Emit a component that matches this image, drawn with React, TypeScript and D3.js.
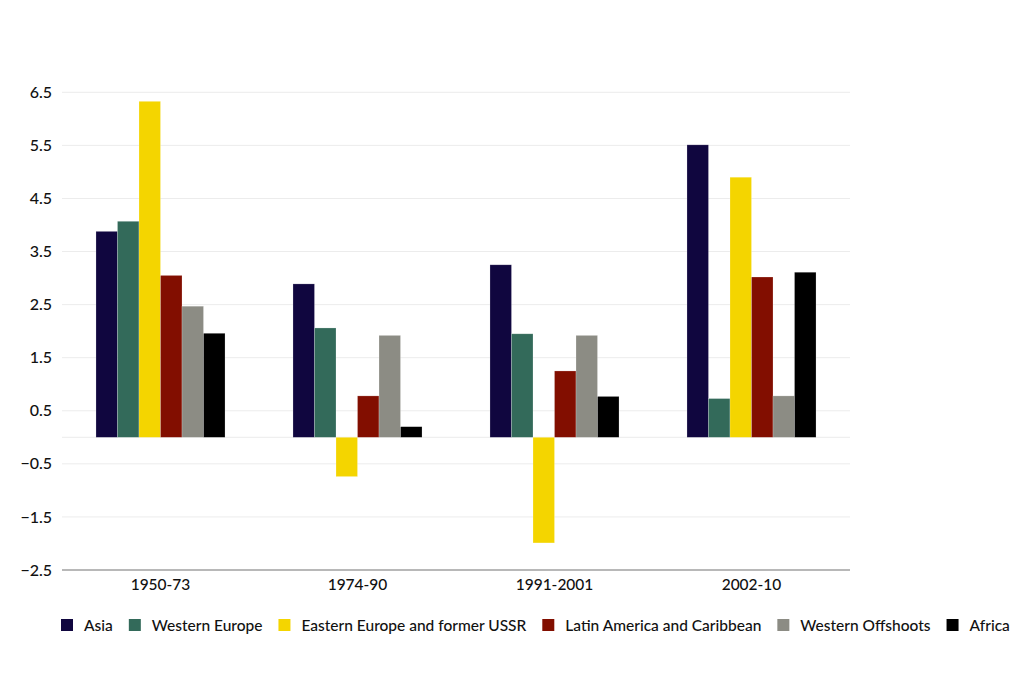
import { useEffect, useRef } from "react"
import * as d3 from "d3"

const periods = ["1950-73", "1974-90", "1991-2001", "2002-10"]
const regions = [
  "Asia",
  "Western Europe",
  "Eastern Europe and former USSR",
  "Latin America and Caribbean",
  "Western Offshoots",
  "Africa",
]
const regionColors = ["#10063f", "#336a5a", "#f4d500", "#820e00", "#8c8c84", "#000000"]

// growth rate per region, one value per period
const asia = [3.88, 2.89, 3.25, 5.51]
const westernEurope = [4.07, 2.06, 1.95, 0.73]
const easternEurope = [6.33, -0.74, -1.99, 4.9]
const latinAmerica = [3.05, 0.78, 1.25, 3.02]
const westernOffshoots = [2.47, 1.92, 1.92, 0.78]
const africa = [1.96, 0.2, 0.77, 3.11]
const seriesValues = [asia, westernEurope, easternEurope, latinAmerica, westernOffshoots, africa]

const yTicks = [-2.5, -1.5, -0.5, 0.5, 1.5, 2.5, 3.5, 4.5, 5.5, 6.5]

export default function App() {
  const svgRef = useRef<SVGSVGElement>(null)

  useEffect(() => {
    if (!svgRef.current) return
    document.body.style.margin = "0"

    const svg = d3.select(svgRef.current)
    svg.selectAll("*").remove()

    const font = "Lato, 'Open Sans', sans-serif"
    const left = 62
    const right = 850

    const y = d3.scaleLinear().domain([-2.5, 6.5]).range([570, 92.3])
    const x0 = d3.scaleBand().domain(periods).range([left, right]).paddingInner(0.345).paddingOuter(0.1725)
    const x1 = d3.scaleBand().domain(regions).range([0, x0.bandwidth()])

    // gridlines
    svg
      .append("g")
      .selectAll("line")
      .data(yTicks.concat([0]))
      .join("line")
      .attr("x1", left)
      .attr("x2", right)
      .attr("y1", (d) => y(d))
      .attr("y2", (d) => y(d))
      .attr("stroke", "#ececec")
      .attr("stroke-width", 1)

    // y tick labels
    svg
      .append("g")
      .selectAll("text")
      .data(yTicks)
      .join("text")
      .attr("x", 52)
      .attr("y", (d) => y(d))
      .attr("dy", "0.35em")
      .attr("text-anchor", "end")
      .attr("font-family", font)
      .attr("font-size", 16)
      .attr("font-weight", 500)
      .attr("fill", "#111")
      .text((d) => d3.format(".1f")(d))

    // bars
    const groups = svg
      .append("g")
      .selectAll("g")
      .data(periods)
      .join("g")
      .attr("transform", (d) => `translate(${x0(d)},0)`)

    groups
      .selectAll("rect")
      .data((_, i) => regions.map((r, k) => ({ region: r, k, value: seriesValues[k][i] })))
      .join("rect")
      .attr("x", (d) => x1(d.region) as number)
      .attr("width", x1.bandwidth())
      .attr("y", (d) => y(Math.max(0, d.value)))
      .attr("height", (d) => Math.abs(y(d.value) - y(0)))
      .attr("fill", (d) => regionColors[d.k])
      .attr("stroke", "#ffffff")
      .attr("stroke-opacity", 0.35)
      .attr("stroke-width", 0.6)

    // bottom axis line
    svg
      .append("line")
      .attr("x1", left)
      .attr("x2", right)
      .attr("y1", y(-2.5))
      .attr("y2", y(-2.5))
      .attr("stroke", "#b8b8b8")
      .attr("stroke-width", 2)

    // category labels
    svg
      .append("g")
      .selectAll("text")
      .data(periods)
      .join("text")
      .attr("x", (d) => (x0(d) as number) + x0.bandwidth() / 2)
      .attr("y", 590)
      .attr("text-anchor", "middle")
      .attr("font-family", font)
      .attr("font-size", 15.5)
      .attr("font-weight", 500)
      .attr("fill", "#111")
      .text((d) => d)

    // legend, laid out left to right from measured text widths
    const legend = svg.append("g").attr("transform", "translate(61,0)")
    let cx = 0
    regions.forEach((r, k) => {
      const item = legend.append("g").attr("transform", `translate(${cx},0)`)
      item
        .append("rect")
        .attr("x", 0)
        .attr("y", 619)
        .attr("width", 12)
        .attr("height", 12)
        .attr("fill", regionColors[k])
      const t = item
        .append("text")
        .attr("x", 23)
        .attr("y", 631)
        .attr("font-family", font)
        .attr("font-size", 15.5)
        .attr("font-weight", 500)
        .attr("fill", "#111")
        .text(r)
      const w = (t.node() as SVGTextElement).getComputedTextLength()
      cx += 23 + w + 16
    })
  }, [])

  return <svg ref={svgRef} width={1024} height={695} style={{ display: "block", background: "#fff" }} />
}
